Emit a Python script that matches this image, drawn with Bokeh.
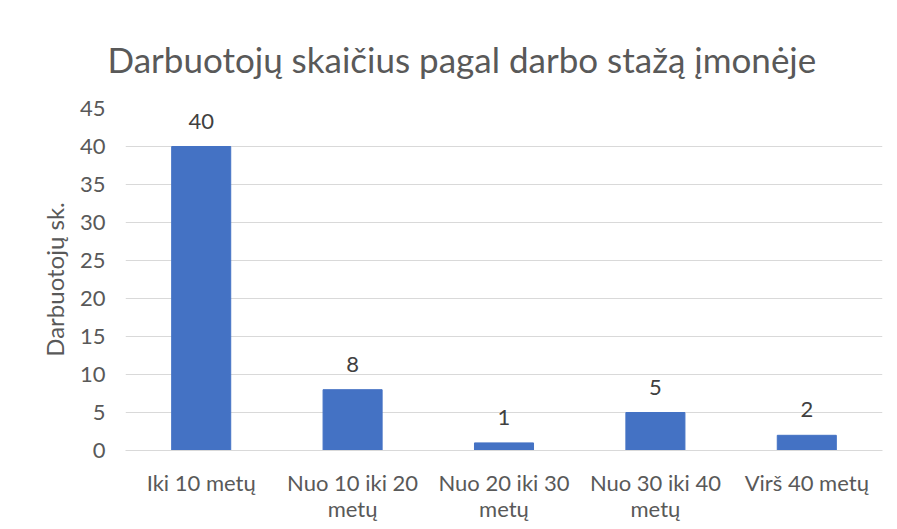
from bokeh.plotting import figure
from bokeh.models import ColumnDataSource, LabelSet, Range1d, FixedTicker, LinearAxis
from bokeh.core.properties import value
from bokeh.embed import file_html
from bokeh.resources import INLINE

categories = ["Iki 10 metų", "Nuo 10 iki 20 metų", "Nuo 20 iki 30 metų", "Nuo 30 iki 40 metų", "Virš 40 metų"]
label_line1 = ["Iki 10 metų", "Nuo 10 iki 20", "Nuo 20 iki 30", "Nuo 30 iki 40", "Virš 40 metų"]
label_line2 = ["", "metų", "metų", "metų", ""]
values = [40, 8, 1, 5, 2]
y_ticks = [0, 5, 10, 15, 20, 25, 30, 35, 40, 45]

pos = list(range(len(categories)))
src = ColumnDataSource(dict(x=pos, cat=categories, val=values, lab=[str(v) for v in values]))

FONT = "Lato"
GRAY = "#595959"
FS = "22px"

p = figure(x_range=Range1d(-0.5, len(categories) - 0.5), y_range=Range1d(0, 45),
           width=889, height=529, output_backend="svg", toolbar_location=None,
           title="Darbuotojų skaičius pagal darbo stažą įmonėje")
p.min_border_left = 125
p.min_border_right = 7
p.min_border_top = 108
p.min_border_bottom = 79

p.title.align = "left"
p.title.offset = -18
p.title.text_font = FONT
p.title.text_font_size = "35px"
p.title.text_font_style = "normal"
p.title.text_color = GRAY
p.title.standoff = 57

p.vbar(x="x", top="val", width=0.39, source=src, color="#4472C4")

labels = LabelSet(x="x", y="val", text="lab", source=src, text_align="center",
                  text_baseline="alphabetic", y_offset=18, text_font_size=FS,
                  text_color="#404040", text_font=value(FONT))
p.add_layout(labels)

p.outline_line_color = None
p.xgrid.grid_line_color = None
p.ygrid.grid_line_color = "#d9d9d9"
p.ygrid.grid_line_width = 1

p.yaxis.ticker = FixedTicker(ticks=y_ticks)
p.yaxis.axis_line_color = None
p.yaxis.major_tick_line_color = None
p.yaxis.major_tick_out = 0
p.yaxis.minor_tick_line_color = None
p.yaxis.major_label_standoff = 20
p.yaxis.major_label_text_font = FONT
p.yaxis.major_label_text_font_size = FS
p.yaxis.major_label_text_color = GRAY
p.yaxis.axis_label = "Darbuotojų sk."
p.yaxis.axis_label_text_font = FONT
p.yaxis.axis_label_text_font_size = "24px"
p.yaxis.axis_label_text_font_style = "normal"
p.yaxis.axis_label_text_color = GRAY
p.yaxis.axis_label_standoff = 8

p.xaxis.ticker = FixedTicker(ticks=pos)
p.xaxis.axis_line_color = "#d9d9d9"
p.xaxis.major_tick_line_color = None
p.xaxis.major_tick_out = 0
p.xaxis.minor_tick_line_color = None
p.xaxis.major_label_standoff = 18
p.xaxis.major_label_text_font = FONT
p.xaxis.major_label_text_font_size = FS
p.xaxis.major_label_text_color = GRAY
p.xaxis.major_label_overrides = {i: t for i, t in zip(pos, label_line1)}

ax2 = LinearAxis(ticker=FixedTicker(ticks=pos), axis_line_color=None,
                 major_tick_line_color=None, major_tick_out=0, minor_tick_line_color=None,
                 major_label_standoff=-4, major_label_text_font=FONT,
                 major_label_text_font_size=FS, major_label_text_color=GRAY,
                 major_label_overrides={i: t for i, t in zip(pos, label_line2)})
p.add_layout(ax2, "below")

open("out.html", "w").write(file_html(p, INLINE))
